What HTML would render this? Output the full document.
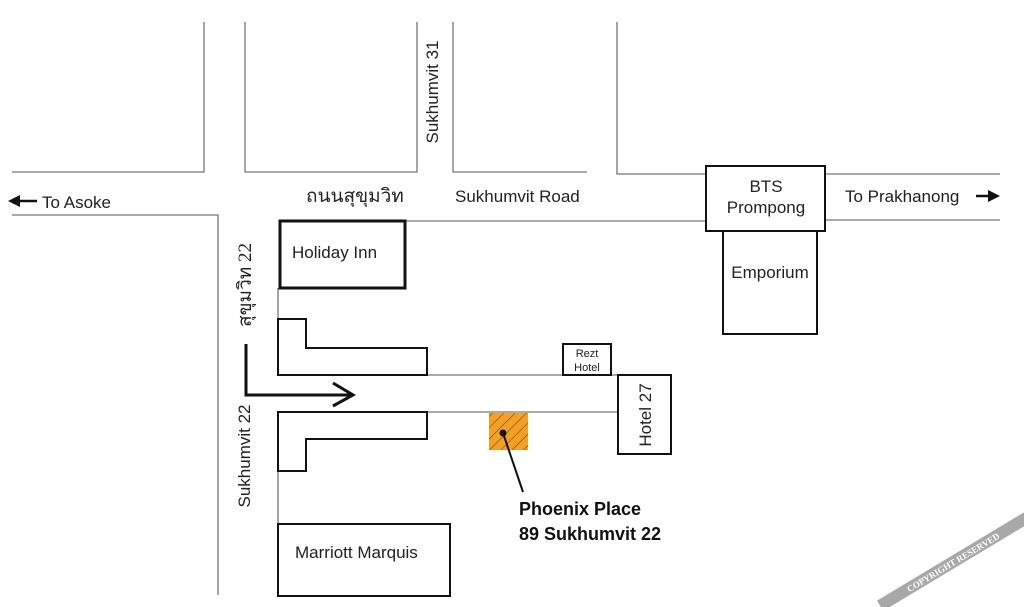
<!DOCTYPE html>
<html><head><meta charset="utf-8"><style>
html,body{margin:0;padding:0;background:#fff;}
svg{display:block;font-family:"Liberation Sans",Arial,sans-serif;}
</style></head><body>
<svg width="1024" height="607" viewBox="0 0 1024 607" xmlns="http://www.w3.org/2000/svg">
<defs>
<pattern id="h" patternUnits="userSpaceOnUse" width="8" height="8" patternTransform="rotate(45)">
<rect width="8" height="8" fill="#f3a024"/><line x1="0" y1="0" x2="0" y2="8" stroke="#7a4a10" stroke-width="1.2"/>
</pattern>
</defs>
<g fill="none" stroke="#777" stroke-width="1.3">
<polyline points="204,22 204,172 12,172"/>
<polyline points="245,22 245,172 417,172 417,22"/>
<polyline points="453,22 453,172 587,172"/>
<polyline points="617,22 617,174 706,174"/>
<line x1="825" y1="174" x2="1000" y2="174"/>
<polyline points="12,215 218,215 218,595"/>
<line x1="405" y1="221" x2="706" y2="221"/>
<line x1="825" y1="220" x2="1000" y2="220"/>
<line x1="278" y1="288" x2="278" y2="319"/>
<line x1="427" y1="375" x2="618" y2="375"/>
<line x1="427" y1="412" x2="618" y2="412"/>
<line x1="278" y1="471" x2="278" y2="524"/>
</g>
<g fill="none" stroke="#111" stroke-width="2">
<rect x="280" y="221" width="125" height="67" stroke-width="3"/>
<polygon points="278,319 306,319 306,348 427,348 427,375 278,375"/>
<polygon points="278,412 427,412 427,439 306,439 306,471 278,471"/>
<rect x="563" y="344" width="48" height="31"/>
<rect x="618" y="375" width="53" height="79"/>
<rect x="278" y="524" width="172" height="72"/>
<rect x="706" y="166" width="119" height="65" fill="#fff"/>
<rect x="723" y="231" width="94" height="103"/>
<polyline points="246,344 246,395 353,395" stroke-width="3"/>
<polyline points="333,383 353,395 333,406" stroke-width="3"/>
</g>
<rect x="489" y="413" width="39" height="37" fill="url(#h)"/>
<circle cx="503" cy="433" r="3.5" fill="#111"/>
<line x1="503" y1="433" x2="523" y2="492" stroke="#111" stroke-width="2"/>
<polygon points="8,201 20,195 20,207" fill="#111"/>
<line x1="18" y1="201" x2="37" y2="201" stroke="#111" stroke-width="2.5"/>
<polygon points="1000,196 988,190 988,202" fill="#111"/>
<line x1="976" y1="196" x2="990" y2="196" stroke="#111" stroke-width="2.5"/>
<g fill="#222" font-size="17">
<text x="42" y="208">To Asoke</text>
<text x="306" y="202" font-size="19" font-family="'Liberation Serif','Noto Serif CJK SC',serif">ถนนสุขุมวิท</text>
<text x="455" y="202">Sukhumvit Road</text>
<text x="845" y="202">To Prakhanong</text>
<text x="766" y="192" text-anchor="middle">BTS</text>
<text x="766" y="213" text-anchor="middle">Prompong</text>
<text x="770" y="278" text-anchor="middle">Emporium</text>
<text x="292" y="258">Holiday Inn</text>
<text x="295" y="558">Marriott Marquis</text>
<text font-size="11" x="587" y="357" text-anchor="middle">Rezt</text>
<text font-size="11" x="587" y="371" text-anchor="middle">Hotel</text>
<text transform="translate(438,92) rotate(-90)" text-anchor="middle">Sukhumvit 31</text>
<text transform="translate(651,415) rotate(-90)" text-anchor="middle">Hotel 27</text>
<text transform="translate(250,456) rotate(-90)" text-anchor="middle">Sukhumvit 22</text>
<text transform="translate(251,285) rotate(-90)" text-anchor="middle" font-size="19" font-family="'Liberation Serif',serif">สุขุมวิท 22</text>
<text x="519" y="515" font-weight="bold" font-size="18" fill="#111">Phoenix Place</text>
<text x="519" y="540" font-weight="bold" font-size="18" fill="#111">89 Sukhumvit 22</text>
</g>
<g transform="translate(953,562) rotate(-31)">
<rect x="-85" y="-6" width="175" height="12" fill="#a8a8a8"/>
<text x="0" y="3.5" text-anchor="middle" font-family="'Liberation Serif',serif" font-size="9" fill="#fff" font-weight="bold">COPYRIGHT RESERVED</text>
</g>
</svg>
</body></html>
